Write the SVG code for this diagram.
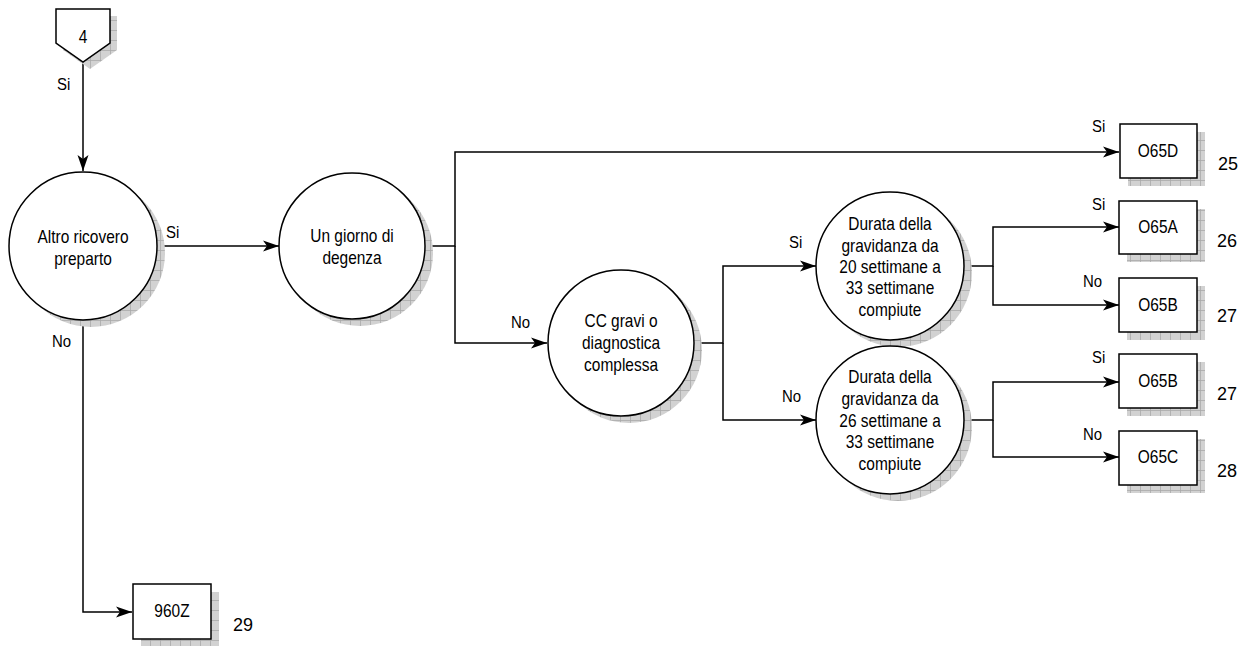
<svg xmlns="http://www.w3.org/2000/svg" width="1255" height="646" viewBox="0 0 1255 646">
<style>
text{font-family:"Liberation Sans",Arial,sans-serif;fill:#000}
.t{font-size:18px;text-anchor:middle;transform-box:fill-box;transform-origin:center;transform:scaleX(0.86)}
.l{font-size:17px;transform-box:fill-box;transform-origin:left;transform:scaleX(0.88)}
.n{font-size:18px}
.node{fill:#fff;stroke:#000;stroke-width:1.5}
.sh{fill:url(#hatch);stroke:none}
.c{fill:none;stroke:#000;stroke-width:1.5}
</style>
<defs>
<pattern id="hatch" width="10" height="10" patternUnits="userSpaceOnUse">
<rect width="10" height="10" fill="#d2d2d2"/>
<path d="M0 0.5H10M0.5 0V10" stroke="#a9a9a9" stroke-width="0.8"/>
</pattern>
<marker id="arr" markerWidth="18" markerHeight="12" refX="16" refY="6" orient="auto" markerUnits="userSpaceOnUse">
<path d="M0 0.5L16 6L0 11.5L4 6Z" fill="#000"/>
</marker>
</defs>
<g id="connectors">
<path class="c" d="M83 62V171" marker-end="url(#arr)"/>
<path class="c" d="M157 246H279" marker-end="url(#arr)"/>
<path class="c" d="M425 246H455V152H1119" marker-end="url(#arr)"/>
<path class="c" d="M455 246V343H547" marker-end="url(#arr)"/>
<path class="c" d="M694 343H723V266H816" marker-end="url(#arr)"/>
<path class="c" d="M723 343V420H816" marker-end="url(#arr)"/>
<path class="c" d="M964 266H993V227H1119" marker-end="url(#arr)"/>
<path class="c" d="M993 266V305H1119" marker-end="url(#arr)"/>
<path class="c" d="M964 420H993V382H1119" marker-end="url(#arr)"/>
<path class="c" d="M993 420V457H1119" marker-end="url(#arr)"/>
<path class="c" d="M83 320V612H132" marker-end="url(#arr)"/>
<text class="l" x="57" y="90">Si</text>
<text class="l" x="166" y="238">Si</text>
<text class="l" x="52" y="347">No</text>
<text class="l" x="1092" y="132">Si</text>
<text class="l" x="511" y="328">No</text>
<text class="l" x="789" y="248">Si</text>
<text class="l" x="782" y="402">No</text>
<text class="l" x="1092" y="210">Si</text>
<text class="l" x="1083" y="287">No</text>
<text class="l" x="1092" y="363">Si</text>
<text class="l" x="1083" y="440">No</text>
</g>
<g id="offpage4">
<path class="sh" d="M63 16H117V50L90 69L63 50Z"/>
<path class="node" d="M56 9H110V43L83 62L56 43Z"/>
<text class="t" x="83" y="43">4</text>
</g>
<g id="altro">
<circle class="sh" cx="91" cy="253" r="74"/>
<circle class="node" cx="83" cy="246" r="74"/>
<text class="t" x="83" y="243">Altro ricovero</text>
<text class="t" x="83" y="265">preparto</text>
</g>
<g id="giorno">
<circle class="sh" cx="360" cy="253" r="73"/>
<circle class="node" cx="352" cy="246" r="73"/>
<text class="t" x="352" y="242">Un giorno di</text>
<text class="t" x="352" y="264">degenza</text>
</g>
<g id="cc">
<circle class="sh" cx="629" cy="350" r="73"/>
<circle class="node" cx="621" cy="343" r="73"/>
<text class="t" x="621" y="327">CC gravi o</text>
<text class="t" x="621" y="349">diagnostica</text>
<text class="t" x="621" y="371">complessa</text>
</g>
<g id="durata20">
<circle class="sh" cx="898" cy="273" r="74"/>
<circle class="node" cx="890" cy="266" r="74"/>
<text class="t" x="890" y="230">Durata della</text>
<text class="t" x="890" y="252">gravidanza da</text>
<text class="t" x="890" y="273">20 settimane a</text>
<text class="t" x="890" y="294">33 settimane</text>
<text class="t" x="890" y="316">compiute</text>
</g>
<g id="durata26">
<circle class="sh" cx="898" cy="427" r="74"/>
<circle class="node" cx="890" cy="420" r="74"/>
<text class="t" x="890" y="383">Durata della</text>
<text class="t" x="890" y="405">gravidanza da</text>
<text class="t" x="890" y="427">26 settimane a</text>
<text class="t" x="890" y="448">33 settimane</text>
<text class="t" x="890" y="470">compiute</text>
</g>
<g id="o65d">
<rect class="sh" x="1128" y="132" width="77" height="54"/>
<rect class="node" x="1120" y="124" width="77" height="54"/>
<text class="t" x="1158" y="157">O65D</text>
<text class="n" x="1218" y="170">25</text>
</g>
<g id="o65a">
<rect class="sh" x="1127" y="209" width="78" height="53"/>
<rect class="node" x="1119" y="201" width="78" height="53"/>
<text class="t" x="1158" y="233">O65A</text>
<text class="n" x="1217" y="247">26</text>
</g>
<g id="o65b1">
<rect class="sh" x="1127" y="286" width="78" height="54"/>
<rect class="node" x="1119" y="278" width="78" height="54"/>
<text class="t" x="1158" y="311">O65B</text>
<text class="n" x="1217" y="322">27</text>
</g>
<g id="o65b2">
<rect class="sh" x="1127" y="362" width="78" height="54"/>
<rect class="node" x="1119" y="354" width="78" height="54"/>
<text class="t" x="1158" y="387">O65B</text>
<text class="n" x="1217" y="400">27</text>
</g>
<g id="o65c">
<rect class="sh" x="1127" y="439" width="78" height="54"/>
<rect class="node" x="1119" y="431" width="78" height="54"/>
<text class="t" x="1158" y="463">O65C</text>
<text class="n" x="1217" y="477">28</text>
</g>
<g id="z960">
<rect class="sh" x="141" y="592" width="78" height="55"/>
<rect class="node" x="133" y="584" width="78" height="55"/>
<text class="t" x="172" y="617">960Z</text>
<text class="n" x="233" y="631">29</text>
</g>
</svg>
